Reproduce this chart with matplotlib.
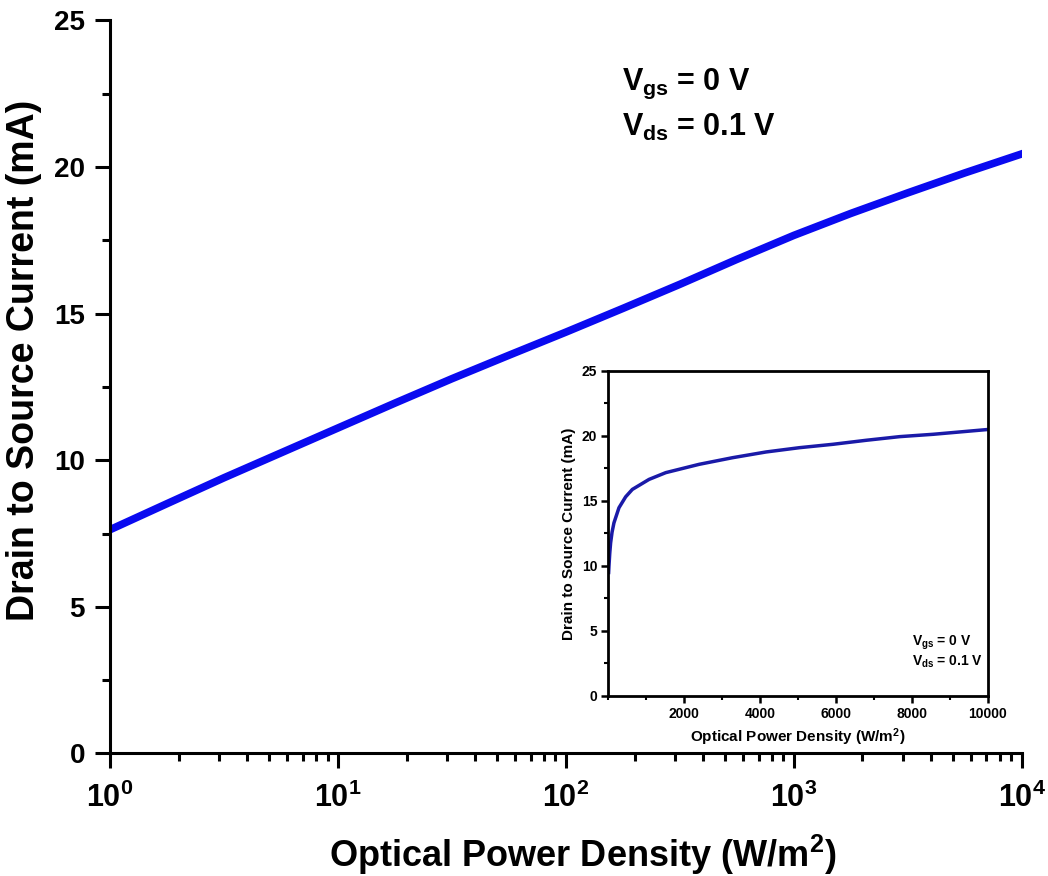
import numpy as np
import matplotlib
matplotlib.use('Agg')
import matplotlib.pyplot as plt
from matplotlib.ticker import MultipleLocator, LogLocator, NullFormatter, FixedLocator

plt.rcParams['font.family'] = ['Liberation Sans', 'DejaVu Sans']
plt.rcParams['font.weight'] = 'bold'
plt.rcParams['mathtext.fontset'] = 'custom'
plt.rcParams['mathtext.rm'] = 'Liberation Sans:bold'
plt.rcParams['mathtext.it'] = 'Liberation Sans:bold'
plt.rcParams['mathtext.bf'] = 'Liberation Sans:bold'

# main panel (log x)
power_log = [1, 1.78, 3.16, 5.62, 10, 17.8, 31.6, 56.2, 100, 178, 316, 562,
             1000, 1780, 3160, 5620, 10000]
current_log = [7.63, 8.52, 9.40, 10.25, 11.10, 11.95, 12.78, 13.58, 14.37, 15.18,
               16.00, 16.85, 17.67, 18.42, 19.12, 19.80, 20.45]

# inset (linear x)
power_lin = [10, 18, 40, 62, 100, 150, 282, 458, 634, 1074, 1514, 2394, 3274, 4155,
             5035, 5915, 6795, 7676, 8556, 10000]
current_lin = [9.5, 9.97, 11.0, 11.77, 12.6, 13.32, 14.48, 15.32, 15.89, 16.66, 17.18,
               17.82, 18.33, 18.77, 19.10, 19.36, 19.67, 19.95, 20.13, 20.50]

xticks_main = [1, 10, 100, 1000, 10000]
xticklabels_main = [r'$10^{0}$', r'$10^{1}$', r'$10^{2}$', r'$10^{3}$', r'$10^{4}$']

fig = plt.figure(figsize=(10.48, 8.76), dpi=100)
ax = fig.add_axes([0.105, 0.140, 0.870, 0.8366])
ax.plot(power_log, current_log, color='#0a0af0', lw=5.5)
ax.set_xscale('log')
ax.set_xlim(1, 1e4)
ax.set_ylim(0, 25)
ax.spines['top'].set_visible(False)
ax.spines['right'].set_visible(False)
for s in ['left', 'bottom']:
    ax.spines[s].set_linewidth(2.2)
ax.xaxis.set_major_locator(FixedLocator(xticks_main))
ax.set_xticklabels(xticklabels_main)
ax.xaxis.set_minor_locator(LogLocator(base=10, subs=np.arange(2, 10)))
ax.xaxis.set_minor_formatter(NullFormatter())
ax.yaxis.set_major_locator(MultipleLocator(5))
ax.yaxis.set_minor_locator(MultipleLocator(2.5))
ax.tick_params(which='major', direction='out', length=11, width=2.2, pad=7)
ax.tick_params(which='minor', direction='out', length=6, width=2.2)
ax.tick_params(axis='y', labelsize=20)
ax.tick_params(axis='x', labelsize=22, pad=10)
ax.set_xlabel(r'Optical Power Density (W/m$^{2}$)', fontsize=26, fontweight='bold')
ax.set_ylabel('Drain to Source Current (mA)', fontsize=27, fontweight='bold')
ax.xaxis.set_label_coords(0.518, -0.108)
ax.yaxis.set_label_coords(-0.0746, 0.536)
ax.text(0.561, 0.905, r'$V_{gs}$ = 0 V', transform=ax.transAxes, fontsize=22, fontweight='bold')
ax.text(0.561, 0.842, r'$V_{ds}$ = 0.1 V', transform=ax.transAxes, fontsize=22, fontweight='bold')

ins = fig.add_axes([0.5804, 0.2055, 0.3623, 0.371])
ins.plot(power_lin, current_lin, color='#1a1aa8', lw=2.5)
ins.set_xlim(0, 10000)
ins.set_ylim(0, 25)
for s in ins.spines.values():
    s.set_linewidth(2)
ins.set_xticks([2000, 4000, 6000, 8000, 10000])
ins.xaxis.set_minor_locator(MultipleLocator(1000))
ins.yaxis.set_major_locator(MultipleLocator(5))
ins.yaxis.set_minor_locator(MultipleLocator(2.5))
ins.tick_params(which='major', direction='out', length=5, width=1.8, labelsize=10, pad=3)
ins.tick_params(which='minor', direction='out', length=3, width=1.5)
ins.set_xlabel(r'Optical Power Density (W/m$^{2}$)', fontsize=11, fontweight='bold', labelpad=4)
ins.set_ylabel('Drain to Source Current (mA)', fontsize=11, fontweight='bold', labelpad=4)
ins.text(0.80, 0.155, r'$V_{gs}$ = 0 V', transform=ins.transAxes, fontsize=10, fontweight='bold')
ins.text(0.80, 0.095, r'$V_{ds}$ = 0.1 V', transform=ins.transAxes, fontsize=10, fontweight='bold')

fig.savefig('out.png', dpi=100)
